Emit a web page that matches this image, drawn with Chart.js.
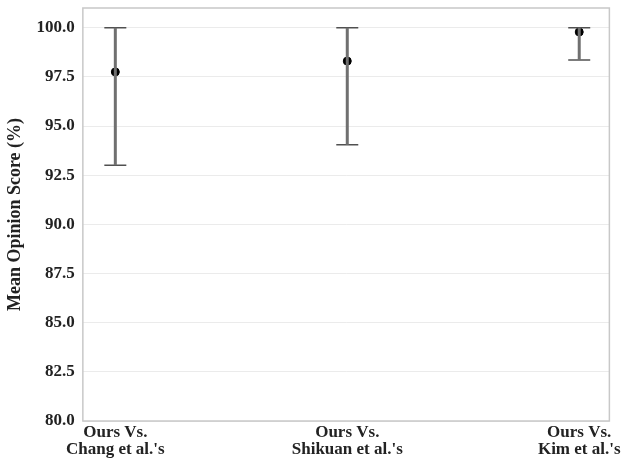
<!DOCTYPE html>
<html lang="en">
<head>
    <meta charset="UTF-8">
    <title>Mean Opinion Score</title>
    <script src="https://cdn.jsdelivr.net/npm/chart.js"></script>
    <style>
        body {
            margin: 0;
            background: #fff;
        }
        #wrap {
            width: 624px;
            height: 461px;
        }
    </style>
</head>
<body>
    <div id="wrap"><canvas id="chart"></canvas></div>

    <script>
        // valores
        const categories = [
            ["Ours Vs.", "Chang et al.'s"],
            ["Ours Vs.", "Shikuan et al.'s"],
            ["Ours Vs.", "Kim et al.'s"]
        ];
        const means = [97.75, 98.3, 99.78];
        const lower = [93.0, 94.05, 98.35];
        const upper = [100.0, 100.0, 100.0];
        const yTicks = [80, 82.5, 85, 87.5, 90, 92.5, 95, 97.5, 100];

        const serif = "'Liberation Serif', 'DejaVu Serif', serif";

        // una linea vertical por cada barra de error
        const barSets = means.map((m, i) => ({
            type: 'scatter',
            data: [{ x: i, y: lower[i] }, { x: i, y: upper[i] }],
            showLine: true,
            borderColor: '#707070',
            borderWidth: 3,
            pointRadius: 0
        }));

        const capPoints = [];
        means.forEach((m, i) => {
            capPoints.push({ x: i, y: lower[i] });
            capPoints.push({ x: i, y: upper[i] });
        });

        const plotBorder = {
            id: 'plotBorder',
            afterDraw(chart) {
                const a = chart.chartArea;
                const ctx = chart.ctx;
                ctx.save();
                ctx.strokeStyle = '#c8c8c8';
                ctx.lineWidth = 1.5;
                ctx.strokeRect(a.left, a.top, a.right - a.left, a.bottom - a.top);
                ctx.restore();
            }
        };

        new Chart(document.getElementById('chart'), {
            type: 'scatter',
            data: {
                datasets: [
                    ...barSets,
                    {
                        data: capPoints,
                        pointStyle: 'line',
                        pointRadius: 11,
                        borderWidth: 1.5,
                        borderColor: '#505050'
                    },
                    {
                        data: means.map((m, i) => ({ x: i, y: m })),
                        pointRadius: 4,
                        backgroundColor: '#000',
                        borderColor: '#000'
                    }
                ]
            },
            options: {
                responsive: true,
                maintainAspectRatio: false,
                animation: false,
                layout: {
                    autoPadding: false,
                    padding: { top: 0, right: 8, left: 0, bottom: 0 }
                },
                plugins: {
                    legend: { display: false },
                    tooltip: { enabled: false }
                },
                scales: {
                    x: {
                        type: 'linear',
                        min: -0.14,
                        max: 2.13,
                        afterBuildTicks: axis => {
                            axis.ticks = categories.map((c, i) => ({ value: i }));
                        },
                        grid: { display: false, drawTicks: false },
                        border: { display: false },
                        ticks: {
                            padding: 3,
                            maxRotation: 0,
                            color: '#222',
                            font: { family: serif, size: 17, weight: 'bold', lineHeight: 1.0 },
                            callback: v => categories[v]
                        }
                    },
                    y: {
                        min: 80,
                        max: 101,
                        afterBuildTicks: axis => {
                            axis.ticks = yTicks.map(v => ({ value: v }));
                        },
                        grid: { color: '#ebebeb', drawTicks: false },
                        border: { display: false },
                        ticks: {
                            padding: 8,
                            color: '#222',
                            // lineHeight 0 para que el area del grafico llegue casi al borde superior
                            font: { family: serif, size: 17, weight: 'bold', lineHeight: 0 },
                            callback: v => v.toFixed(1)
                        },
                        title: {
                            display: true,
                            text: 'Mean Opinion Score (%)',
                            color: '#222',
                            padding: { top: 5, bottom: 2 },
                            font: { family: serif, size: 18, weight: 'bold' }
                        }
                    }
                }
            },
            plugins: [plotBorder]
        });
    </script>
</body>
</html>
